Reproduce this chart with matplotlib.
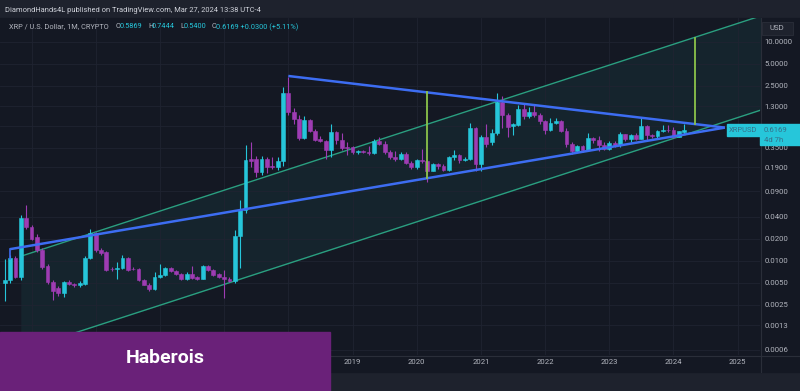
import numpy as np
import matplotlib
matplotlib.use("Agg")
import matplotlib.pyplot as plt
from matplotlib.patches import Rectangle
from matplotlib.ticker import FixedLocator, FixedFormatter, NullLocator

plt.rcParams["font.family"] = ["Roboto", "DejaVu Sans"]

# monthly XRP/USD candles, first bar = Aug 2013 (index -65 = months before Jan 2019)
first_month = -65
opens = [0.0050, 0.0055, 0.0108, 0.0060, 0.0380, 0.0290, 0.0210, 0.0140, 0.0085, 0.0051,
         0.0042, 0.0036, 0.0051, 0.0048, 0.0046, 0.0048, 0.0110, 0.0240, 0.0140, 0.0130,
         0.0078, 0.0078, 0.0079, 0.0108, 0.0078, 0.0078, 0.0054, 0.0047, 0.0041, 0.0060,
         0.0063, 0.0079, 0.0072, 0.0066, 0.0056, 0.0066, 0.0060, 0.0057, 0.0085, 0.0075,
         0.0065, 0.0060, 0.0057, 0.0053, 0.0220, 0.0500, 0.2450, 0.2500, 0.1650, 0.2500,
         0.2000, 0.1950, 0.2300, 2.0000, 1.1000, 0.8600, 0.4800, 0.8500, 0.6000, 0.4700,
         0.4400, 0.3300, 0.5800, 0.4500, 0.3600, 0.3600, 0.3100, 0.3150, 0.3100, 0.3000,
         0.4300, 0.4000, 0.3100, 0.2600, 0.2500, 0.2900, 0.2200, 0.1900, 0.2400, 0.2300,
         0.1700, 0.2100, 0.2000, 0.1750, 0.2600, 0.2800, 0.2400, 0.2500, 0.6600, 0.2100,
         0.5000, 0.4200, 0.5700, 1.5000, 1.0000, 0.7000, 0.7200, 1.2000, 0.9500, 1.1000,
         1.0000, 0.8300, 0.6200, 0.7800, 0.8200, 0.6000, 0.4000, 0.3200, 0.3700, 0.3300,
         0.4800, 0.4500, 0.3900, 0.3400, 0.4100, 0.3800, 0.5400, 0.4700, 0.5200, 0.4700,
         0.7000, 0.5200, 0.5100, 0.6000, 0.6200, 0.6200, 0.5000, 0.5869]
highs = [0.0105, 0.0120, 0.0115, 0.0420, 0.0580, 0.0310, 0.0230, 0.0150, 0.0090, 0.0055,
         0.0045, 0.0053, 0.0055, 0.0050, 0.0052, 0.0115, 0.0270, 0.0250, 0.0150, 0.0135,
         0.0082, 0.0095, 0.0120, 0.0112, 0.0082, 0.0080, 0.0056, 0.0049, 0.0070, 0.0090,
         0.0082, 0.0081, 0.0074, 0.0068, 0.0070, 0.0085, 0.0062, 0.0088, 0.0088, 0.0078,
         0.0068, 0.0075, 0.0060, 0.0260, 0.0680, 0.3800, 0.4200, 0.2700, 0.2700, 0.2600,
         0.2600, 0.2600, 2.4000, 3.3000, 1.2500, 0.9800, 0.9500, 0.8800, 0.6300, 0.5100,
         0.4500, 0.7500, 0.6000, 0.5600, 0.4200, 0.3700, 0.3300, 0.3300, 0.3700, 0.4700,
         0.5000, 0.4300, 0.3300, 0.3200, 0.3100, 0.3100, 0.2300, 0.2500, 0.3400, 0.2400,
         0.2200, 0.2200, 0.2100, 0.2700, 0.3300, 0.2900, 0.2600, 0.7800, 0.6800, 0.5200,
         0.7500, 0.6400, 1.9600, 1.8000, 1.0500, 0.7800, 1.3500, 1.4000, 1.2800, 1.3500,
         1.0500, 0.8500, 0.9100, 0.9100, 0.8400, 0.6500, 0.4200, 0.3800, 0.3900, 0.5600,
         0.5000, 0.5100, 0.4200, 0.4300, 0.4300, 0.5800, 0.5500, 0.5400, 0.5600, 0.9300,
         0.7200, 0.5400, 0.6200, 0.7200, 0.7200, 0.6700, 0.6000, 0.7444]
lows = [0.0028, 0.0050, 0.0058, 0.0055, 0.0270, 0.0190, 0.0130, 0.0078, 0.0048, 0.0029,
        0.0033, 0.0032, 0.0046, 0.0044, 0.0044, 0.0046, 0.0105, 0.0130, 0.0120, 0.0072,
        0.0072, 0.0056, 0.0076, 0.0072, 0.0074, 0.0052, 0.0046, 0.0039, 0.0040, 0.0058,
        0.0061, 0.0070, 0.0063, 0.0054, 0.0055, 0.0057, 0.0055, 0.0056, 0.0073, 0.0062,
        0.0058, 0.0031, 0.0051, 0.0050, 0.0080, 0.0450, 0.1900, 0.1400, 0.1500, 0.1600,
        0.1800, 0.1750, 0.2000, 1.0000, 0.7500, 0.4500, 0.4600, 0.5800, 0.4300, 0.4200,
        0.2500, 0.2600, 0.4000, 0.3300, 0.2800, 0.2900, 0.2900, 0.3000, 0.2800, 0.2900,
        0.3800, 0.2900, 0.2500, 0.2300, 0.2400, 0.2100, 0.1800, 0.1800, 0.2200, 0.1200,
        0.1700, 0.1800, 0.1700, 0.1700, 0.2400, 0.2200, 0.2300, 0.2400, 0.1700, 0.1700,
        0.3600, 0.3900, 0.5300, 0.6500, 0.5000, 0.5200, 0.7000, 0.8800, 0.9000, 0.9300,
        0.7500, 0.5500, 0.6000, 0.7400, 0.5800, 0.3600, 0.2900, 0.3100, 0.3100, 0.3200,
        0.4100, 0.3200, 0.3300, 0.3300, 0.3600, 0.3600, 0.4400, 0.4200, 0.4500, 0.4600,
        0.4500, 0.4800, 0.4700, 0.5800, 0.5800, 0.4800, 0.4900, 0.5400]
closes = [0.0055, 0.0108, 0.0060, 0.0380, 0.0290, 0.0200, 0.0140, 0.0082, 0.0051, 0.0039,
          0.0036, 0.0051, 0.0048, 0.0046, 0.0050, 0.0110, 0.0240, 0.0140, 0.0127, 0.0075,
          0.0077, 0.0079, 0.0110, 0.0075, 0.0077, 0.0054, 0.0047, 0.0041, 0.0060, 0.0063,
          0.0079, 0.0072, 0.0065, 0.0056, 0.0066, 0.0058, 0.0056, 0.0085, 0.0075, 0.0063,
          0.0060, 0.0057, 0.0053, 0.0220, 0.0500, 0.2400, 0.2350, 0.1650, 0.2500, 0.1900,
          0.1950, 0.2300, 2.0000, 1.1000, 0.8600, 0.4800, 0.8500, 0.5900, 0.4500, 0.4300,
          0.3300, 0.5800, 0.4500, 0.3500, 0.3500, 0.3100, 0.3150, 0.3100, 0.3000, 0.4300,
          0.4000, 0.3100, 0.2600, 0.2500, 0.2900, 0.2200, 0.1900, 0.2400, 0.2300, 0.1700,
          0.2100, 0.2000, 0.1750, 0.2600, 0.2800, 0.2400, 0.2500, 0.6600, 0.2100, 0.5000,
          0.4000, 0.5700, 1.5000, 1.0000, 0.6800, 0.7500, 1.2000, 0.9500, 1.1000, 1.0000,
          0.8300, 0.6200, 0.7800, 0.8200, 0.5900, 0.4000, 0.3200, 0.3700, 0.3300, 0.4800,
          0.4500, 0.3900, 0.3400, 0.4100, 0.3800, 0.5400, 0.4700, 0.5200, 0.4700, 0.7000,
          0.5200, 0.5100, 0.6000, 0.6200, 0.6100, 0.5000, 0.5900, 0.6169]

# 0.7000 sits under the last-price label in the reference, so it gets no text
price_ticks = [10.0, 5.0, 2.5, 1.3, 0.7, 0.35, 0.19, 0.09, 0.04, 0.02, 0.01,
               0.005, 0.0025, 0.0013, 0.0006]
price_labels = [f"{t:.4f}" if t != 0.7 else "" for t in price_ticks]
years = list(range(2014, 2026))
# year labels before 2019 are covered by the watermark box
year_labels = [str(y) if y >= 2019 else "" for y in years]

# drawings (month index, price)
channel_k = [-62.0, 77.0]
channel_upper = [0.0115, 23.4]
channel_lower = [0.00059, 1.20]
blue_upper_k = [-12.0, 69.6]
blue_upper_p = [3.39, 0.665]
blue_lower_k = [-64.0, 69.6]
blue_lower_p = [0.0144, 0.665]
blue_stub_p = [0.0105, 0.0144]
measure_k = [14, 64]

BG = "#141823"
OUTER = "#1e222d"
UP = "#26c6da"
DOWN = "#9e3cb3"
TXT = "#b2b5be"

W, H = 800, 391


def fx(x):
    return x / W


def fy(y):
    return 1 - y / H


def on_line(ks, ps, k):
    return 10 ** np.interp(k, ks, np.log10(ps))


fig = plt.figure(figsize=(8, 3.91), dpi=100, facecolor=OUTER)
fig.add_artist(Rectangle((0, fy(372)), 1, fy(18) - fy(372), transform=fig.transFigure,
                         color=BG, zorder=0))

ax = fig.add_axes([0, fy(355), fx(760), fy(18) - fy(355)])
ax.set_facecolor(BG)
ax.set_yscale("log")
ax.set_xlim(-65.89, 76.17)
ax.set_ylim(0.000511, 21.1)

# channel
ax.fill_between(channel_k, channel_lower, channel_upper, color="#26a69a", alpha=0.09,
                lw=0, zorder=1)
ax.plot(channel_k, channel_upper, color="#2a9f80", lw=1.0, zorder=2)
ax.plot(channel_k, channel_lower, color="#2a9f80", lw=1.0, zorder=2)

# candles
o = np.array(opens)
c = np.array(closes)
hi = np.array(highs)
lo = np.array(lows)
ks = np.arange(first_month, first_month + len(o))
cols = [UP if cc >= oo else DOWN for oo, cc in zip(o, c)]
ax.vlines(ks, lo, hi, colors=cols, lw=0.8, zorder=3)
ax.bar(ks, np.abs(c - o), bottom=np.minimum(o, c), width=0.72, color=cols,
       edgecolor=cols, linewidth=0.4, zorder=4)

# triangle
ax.plot(blue_upper_k, blue_upper_p, color="#3d6df2", lw=1.8, zorder=5,
        solid_capstyle="butt")
ax.plot(blue_lower_k, blue_lower_p, color="#3d6df2", lw=1.8, zorder=5,
        solid_capstyle="butt")
ax.plot([blue_lower_k[0]] * 2, blue_stub_p, color="#3d6df2", lw=1.2, zorder=5)

# measured move
lo_m = on_line(blue_lower_k, blue_lower_p, measure_k[0])
hi_m = on_line(blue_upper_k, blue_upper_p, measure_k[0])
base2 = on_line(blue_upper_k, blue_upper_p, measure_k[1])
ax.plot([measure_k[0]] * 2, [lo_m, hi_m], color="#8bc34a", lw=1.3, zorder=5)
ax.plot([measure_k[1]] * 2, [base2, base2 * hi_m / lo_m], color="#8bc34a", lw=1.3,
        zorder=5)

# axes
ax.yaxis.tick_right()
ax.yaxis.set_major_locator(FixedLocator(price_ticks))
ax.yaxis.set_major_formatter(FixedFormatter(price_labels))
ax.yaxis.set_minor_locator(NullLocator())
ax.xaxis.set_major_locator(FixedLocator([(y - 2019) * 12 for y in years]))
ax.xaxis.set_major_formatter(FixedFormatter(year_labels))
ax.tick_params(axis="both", length=0, colors=TXT, labelsize=5.6)
ax.tick_params(axis="y", pad=3)
ax.tick_params(axis="x", pad=3)
ax.grid(True, color="#1f2331", lw=0.6, zorder=0)
for s in ax.spines.values():
    s.set_visible(False)

fig.add_artist(plt.Line2D([0, 1], [fy(355.5)] * 2, transform=fig.transFigure,
                          color="#2a2e39", lw=0.8))
fig.add_artist(plt.Line2D([fx(760.5)] * 2, [fy(18), fy(372)], transform=fig.transFigure,
                          color="#2a2e39", lw=0.8))

# header and legend
fig.text(fx(5), fy(10), "DiamondHands4L published on TradingView.com, Mar 27, 2024 13:38 UTC-4",
         color="#d1d4dc", fontsize=5.4, va="center")
legend_y = fy(27)
fig.text(fx(9), legend_y, "XRP / U.S. Dollar, 1M, CRYPTO", color=TXT, fontsize=5.3, va="center")
for lab, xl, val, xv in [("O", 116, "0.5869", 120), ("H", 148, "0.7444", 152),
                         ("L", 180, "0.5400", 184), ("C", 212, "0.6169 +0.0300 (+5.11%)", 216)]:
    fig.text(fx(xl), legend_y, lab, color=TXT, fontsize=5.3, va="center")
    fig.text(fx(xv), legend_y, val, color=UP, fontsize=5.3, va="center")

# USD box
fig.add_artist(Rectangle((fx(762), fy(35)), fx(31), fy(22) - fy(35), transform=fig.transFigure,
                         facecolor="#1e222d", edgecolor="#2a2e39", lw=0.6, zorder=6))
fig.text(fx(777), fy(28.5), "USD", color=TXT, fontsize=5.6, ha="center", va="center", zorder=7)

# last price labels
fig.add_artist(Rectangle((fx(727), fy(136)), fx(33), fy(124) - fy(136), transform=fig.transFigure,
                         color=UP, zorder=6))
fig.text(fx(743.5), fy(130), "XRPUSD", color="#35708a", fontsize=5.4, ha="center",
         va="center", zorder=7)
fig.add_artist(Rectangle((fx(760), fy(145)), fx(40), fy(124) - fy(145), transform=fig.transFigure,
                         color=UP, zorder=6))
fig.text(fx(764), fy(130), "0.6169", color="#35708a", fontsize=5.6, va="center", zorder=7)
fig.text(fx(764), fy(139.5), "4d 7h", color="#35708a", fontsize=5.6, va="center", zorder=7)

# watermark box
fig.add_artist(Rectangle((0, 0), fx(330), fy(332), transform=fig.transFigure,
                         color="#6a2179", zorder=8))
fig.text(fx(165), fy(358), "Haberois", color="white", fontsize=14, fontweight="bold",
         ha="center", va="center", zorder=9)

fig.savefig("out.png", dpi=100, facecolor=OUTER)
